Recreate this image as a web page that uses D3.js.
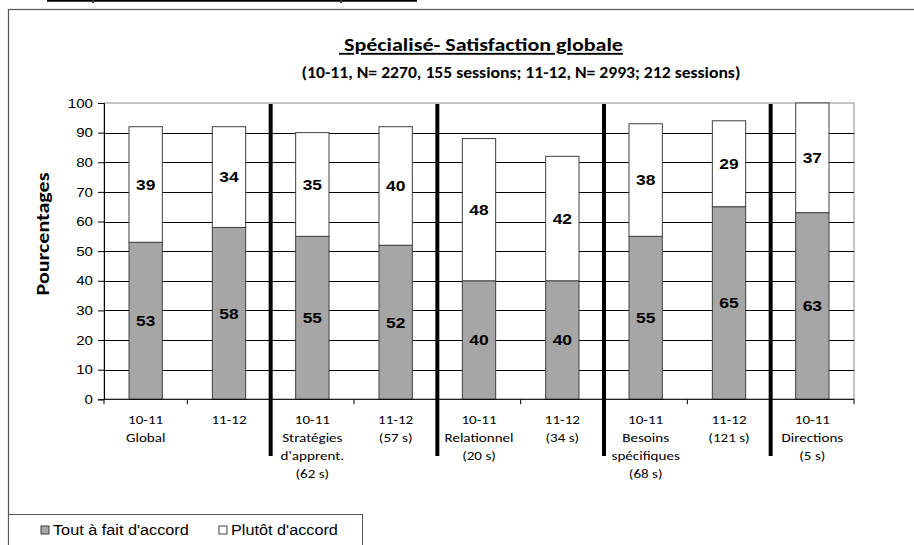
<!DOCTYPE html>
<html>
<head>
<meta charset="utf-8">
<script src="https://cdn.jsdelivr.net/npm/d3@7"></script>
<style>
  html, body { margin: 0; padding: 0; background: #fff; }
  svg { display: block; }
</style>
</head>
<body>
<svg id="chart" width="914" height="545"></svg>
<script>
// Category labels (one entry per line of the axis label)
const categories = [
  ["10-11", "Global"],
  ["11-12"],
  ["10-11", "Stratégies", "d'apprent.", "(62 s)"],
  ["11-12", "(57 s)"],
  ["10-11", "Relationnel", "(20 s)"],
  ["11-12", "(34 s)"],
  ["10-11", "Besoins", "spécifiques", "(68 s)"],
  ["11-12", "(121 s)"],
  ["10-11", "Directions", "(5 s)"]
];
// Series values (percent)
const toutAFait = [53, 58, 55, 52, 40, 40, 55, 65, 63];
const plutot    = [39, 34, 35, 40, 48, 42, 38, 29, 37];
const seriesNames = ["Tout à fait d'accord", "Plutôt d'accord"];
const yTicks = [0, 10, 20, 30, 40, 50, 60, 70, 80, 90, 100];
// Groups are separated before these category indices
const groupBreaks = [2, 4, 6, 8];

const colors = ["#a6a6a6", "#ffffff"];
const calibri = "Carlito, Calibri, Lato, 'Open Sans', sans-serif";
const arial = "'Liberation Sans', Arial, sans-serif";
// Text in this chart is set slightly wide
const SX = 1.16;
const wide = (px, py) => `translate(${px},${py}) scale(${SX},1)`;

const svg = d3.select("#chart");

// Outer frame of the chart object (continues past the right/bottom edge)
svg.append("rect")
  .attr("x", 8.5).attr("y", 9.5)
  .attr("width", 920).attr("height", 560)
  .attr("fill", "#fff").attr("stroke", "#555").attr("stroke-width", 1.2);

// Underline of the heading sitting just above the chart
svg.append("line")
  .attr("x1", 47).attr("x2", 417).attr("y1", 0.8).attr("y2", 0.8)
  .attr("stroke", "#000").attr("stroke-width", 1.8);
[92, 340].forEach(px => svg.append("rect")
  .attr("x", px).attr("y", 0).attr("width", 2).attr("height", 3).attr("fill", "#333"));

const plot = { left: 104, right: 854, top: 103, bottom: 399.3 };

const x = d3.scaleBand()
  .domain(d3.range(categories.length))
  .range([plot.left, plot.right])
  .paddingInner(0.6)
  .paddingOuter(0.3);

const y = d3.scaleLinear().domain([0, 100]).range([plot.bottom, plot.top]);

const step = x.step();
const boundary = i => x(i) - (step - x.bandwidth()) / 2;

// Plot area border (grey)
svg.append("rect")
  .attr("x", plot.left).attr("y", y(100))
  .attr("width", plot.right - plot.left).attr("height", y(0) - y(100))
  .attr("fill", "#fff").attr("stroke", "#8c8c8c").attr("stroke-width", 1);

// Horizontal gridlines
svg.append("g")
  .selectAll("line")
  .data(yTicks.filter(t => t > 0 && t < 100))
  .join("line")
  .attr("x1", plot.left).attr("x2", plot.right)
  .attr("y1", d => Math.round(y(d)) + 0.5).attr("y2", d => Math.round(y(d)) + 0.5)
  .attr("stroke", "#000").attr("stroke-width", 1);

// Y axis
const yAxis = svg.append("g")
  .attr("transform", `translate(${plot.left},0)`)
  .call(d3.axisLeft(y).tickValues(yTicks).tickSize(6).tickPadding(6));
yAxis.select(".domain").attr("stroke", "#000");
yAxis.selectAll(".tick line").attr("stroke", "#000");
yAxis.selectAll("text")
  .attr("x", 0)
  .attr("transform", wide(-11, 0))
  .attr("font-family", arial).attr("font-size", 13).attr("fill", "#000");

// Stacked bars
const stackData = categories.map((c, i) => ({ i, a: toutAFait[i], b: plutot[i] }));
const stack = d3.stack().keys(["a", "b"])(stackData);

const layers = svg.append("g").selectAll("g")
  .data(stack)
  .join("g")
  .attr("fill", (d, k) => colors[k]);

layers.selectAll("rect")
  .data(d => d)
  .join("rect")
  .attr("x", d => x(d.data.i))
  .attr("width", x.bandwidth())
  .attr("y", d => y(d[1]))
  .attr("height", d => y(d[0]) - y(d[1]))
  .attr("stroke", "#404040")
  .attr("stroke-width", 1);

// Value labels centred in each segment
layers.selectAll("text")
  .data(d => d)
  .join("text")
  .attr("transform", d => wide(x(d.data.i) + x.bandwidth() / 2, y((d[0] + d[1]) / 2)))
  .attr("dy", "0.36em")
  .attr("text-anchor", "middle")
  .attr("font-family", arial).attr("font-weight", "bold").attr("font-size", 15)
  .attr("fill", "#000")
  .text(d => Math.round(d[1] - d[0]));

// X axis line and tick marks at category boundaries
svg.append("line")
  .attr("x1", plot.left).attr("x2", plot.right)
  .attr("y1", y(0)).attr("y2", y(0))
  .attr("stroke", "#000").attr("stroke-width", 1);
svg.append("g").selectAll("line")
  .data(d3.range(categories.length + 1))
  .join("line")
  .attr("x1", i => i < categories.length ? boundary(i) : plot.right)
  .attr("x2", i => i < categories.length ? boundary(i) : plot.right)
  .attr("y1", y(0)).attr("y2", y(0) + 5)
  .attr("stroke", "#000");

// Category labels
const catLabels = svg.append("g").selectAll("text")
  .data(categories)
  .join("text")
  .attr("text-anchor", "middle")
  .attr("font-family", calibri).attr("font-size", 13).attr("fill", "#000")
  .attr("transform", (d, i) => wide(x(i) + x.bandwidth() / 2, y(0) + 25));
catLabels.selectAll("tspan")
  .data(d => d)
  .join("tspan")
  .attr("x", 0)
  .attr("y", (d, j) => j * 18)
  .text(d => d);

// Thick separators between groups
svg.append("g").selectAll("line")
  .data(groupBreaks)
  .join("line")
  .attr("x1", i => boundary(i)).attr("x2", i => boundary(i))
  .attr("y1", y(100) + 1).attr("y2", 456)
  .attr("stroke", "#000").attr("stroke-width", 4);

// Y axis title
svg.append("text")
  .attr("transform", `translate(49,234) rotate(-90) scale(${SX},1)`)
  .attr("text-anchor", "middle")
  .attr("font-family", calibri).attr("font-weight", "bold").attr("font-size", 19)
  .text("Pourcentages");

// Title and subtitle
svg.append("text")
  .attr("transform", wide(481, 51))
  .attr("text-anchor", "middle")
  .attr("font-family", calibri).attr("font-weight", "bold").attr("font-size", 19)
  .attr("text-decoration", "underline")
  .text("\u00a0Spécialisé- Satisfaction globale");
svg.append("text")
  .attr("transform", wide(521, 78))
  .attr("text-anchor", "middle")
  .attr("font-family", calibri).attr("font-weight", "bold").attr("font-size", 15.2)
  .text("(10-11, N= 2270, 155 sessions; 11-12, N= 2993; 212 sessions)");

// Legend
const legend = svg.append("g");
legend.append("rect")
  .attr("x", 8.5).attr("y", 514.5).attr("width", 354).attr("height", 40)
  .attr("fill", "#fff").attr("stroke", "#555").attr("stroke-width", 1);
const legendX = [41, 219];
const items = legend.selectAll("g.item")
  .data(seriesNames)
  .join("g")
  .attr("transform", (d, k) => `translate(${legendX[k]},530)`);
items.append("rect")
  .attr("x", 0).attr("y", -4).attr("width", 8).attr("height", 8)
  .attr("fill", (d, k) => colors[k]).attr("stroke", "#404040").attr("stroke-width", 1);
items.append("text")
  .attr("transform", wide(12, 0))
  .attr("dy", "0.36em")
  .attr("font-family", arial).attr("font-size", 14).attr("fill", "#000")
  .text(d => d);
</script>
</body>
</html>
